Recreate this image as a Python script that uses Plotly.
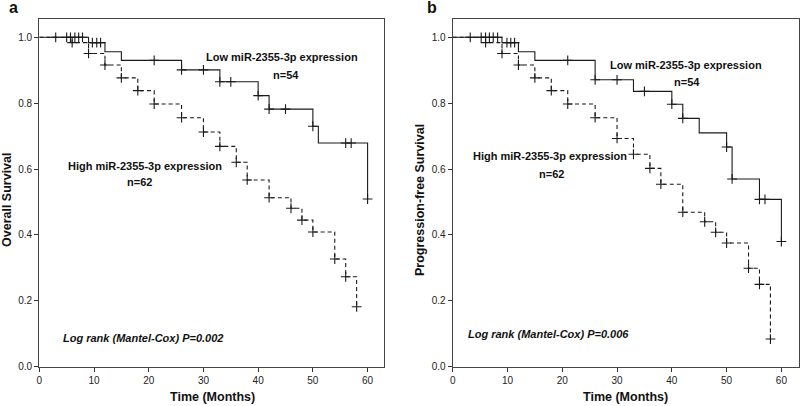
import numpy as np
import plotly.graph_objects as go

# ---------------- data ----------------
# Panel a: Overall survival
a_low_times = [0, 9, 12, 15, 26, 33, 40, 42, 50, 51, 60]
a_low_surv = [1.0, 0.984, 0.956, 0.930, 0.901, 0.865, 0.823, 0.782, 0.730, 0.679, 0.509]
a_low_cens = [3, 5, 5.7, 6.5, 7.2, 7.9, 9.7, 10.5, 11.2, 21, 26, 30, 33, 35, 40, 42, 45, 50, 56, 57, 60]

a_high_times = [0, 6, 9, 12, 15, 18, 21, 26, 30, 33, 36, 38, 42, 46, 48, 50, 54, 56, 58]
a_high_surv = [1.0, 0.984, 0.951, 0.916, 0.877, 0.838, 0.7975, 0.756, 0.7125, 0.669, 0.6205,
               0.567, 0.513, 0.481, 0.445, 0.409, 0.327, 0.273, 0.182]
a_high_cens = [6, 9, 12, 15, 18, 21, 26, 30, 33, 36, 38, 42, 46, 48, 50, 54, 56, 58]

# Panel b: Progression-free survival
b_low_times = [0, 9, 12, 15, 26, 33, 40, 42, 45, 50, 51, 56, 60]
b_low_surv = [1.0, 0.984, 0.956, 0.930, 0.871, 0.836, 0.797, 0.754, 0.710, 0.667, 0.570, 0.508, 0.380]
b_low_cens = [3.2, 5.2, 6, 6.7, 7.4, 8.2, 9.9, 10.6, 11.3, 21, 26, 30, 35, 40, 42, 50, 51, 56, 57, 60]

b_high_times = [0, 6, 9, 12, 15, 18, 21, 26, 30, 33, 36, 38, 42, 46, 48, 50, 54, 56, 58]
b_high_surv = [1.0, 0.984, 0.951, 0.916, 0.877, 0.838, 0.7975, 0.756, 0.693, 0.645, 0.602,
               0.554, 0.469, 0.440, 0.408, 0.3755, 0.299, 0.250, 0.084]
b_high_cens = [6, 9, 12, 15, 18, 21, 26, 30, 33, 36, 38, 42, 46, 48, 50, 54, 56, 58]

x_ticks = [0, 10, 20, 30, 40, 50, 60]
y_ticks = [0.0, 0.2, 0.4, 0.6, 0.8, 1.0]
y_tick_text = ["0.0", "0.2", "0.4", "0.6", "0.8", "1.0"]

low_label = "Low miR-2355-3p expression"
high_label = "High miR-2355-3p expression"
n_low = "n=54"
n_high = "n=62"
p_a = "Log rank (Mantel-Cox) P=0.002"
p_b = "Log rank (Mantel-Cox) P=0.006"


def surv_at(times, surv, t):
    i = int(np.searchsorted(np.array(times), t, side="right")) - 1
    return surv[max(i, 0)]


fig = go.Figure()


def add_curve(times, surv, cens, xa, ya, dash):
    fig.add_trace(go.Scatter(x=times, y=surv, mode="lines", line_shape="hv",
                             line=dict(color="#1a1a1a", width=1.1, dash=dash),
                             xaxis=xa, yaxis=ya, showlegend=False, hoverinfo="skip"))
    cy = [surv_at(times, surv, c) for c in cens]
    fig.add_trace(go.Scatter(x=cens, y=cy, mode="markers",
                             marker=dict(symbol="cross-thin", size=7,
                                         line=dict(color="#1a1a1a", width=1.1)),
                             xaxis=xa, yaxis=ya, showlegend=False, hoverinfo="skip",
                             cliponaxis=False))


add_curve(a_low_times, a_low_surv, a_low_cens, "x", "y", "solid")
add_curve(a_high_times, a_high_surv, a_high_cens, "x", "y", "4px,3px")
add_curve(b_low_times, b_low_surv, b_low_cens, "x2", "y2", "solid")
add_curve(b_high_times, b_high_surv, b_high_cens, "x2", "y2", "4px,3px")

W, H = 800, 406
font = "Liberation Sans, Arial, sans-serif"

ax_common = dict(showgrid=False, zeroline=False, showline=True, mirror=True, automargin=False,
                 linecolor="#444444", linewidth=1.2, ticks="outside", ticklen=4,
                 tickcolor="#333333", tickfont=dict(family=font, size=10, color="#222222"))

ybot = 1 - 366.7 / H
ytop = 1 - 19 / H
fig.update_layout(
    width=W, height=H, margin=dict(l=0, r=0, t=0, b=0, autoexpand=False),
    paper_bgcolor="white", plot_bgcolor="white",
    xaxis=dict(domain=[39.3 / W, 384 / W], range=[0, 63.0], tickvals=x_ticks, anchor="y", **ax_common),
    yaxis=dict(domain=[ybot, ytop], range=[0, 1.0556], tickvals=y_ticks, ticktext=y_tick_text,
               anchor="x", **ax_common),
    xaxis2=dict(domain=[452.7 / W, 798.7 / W], range=[0, 63.16], tickvals=x_ticks, anchor="y2", **ax_common),
    yaxis2=dict(domain=[ybot, ytop], range=[0, 1.0556], tickvals=y_ticks, ticktext=y_tick_text,
                anchor="x2", **ax_common),
)

ann = []


def txt(x, y, s, xref, yref, size=11, italic=False, angle=0, xanchor="center"):
    t = "<b>" + ("<i>" + s + "</i>" if italic else s) + "</b>"
    ann.append(dict(x=x, y=y, xref=xref, yref=yref, text=t, showarrow=False, textangle=angle,
                    xanchor=xanchor, yanchor="middle",
                    font=dict(family=font, size=size, color="#111111")))


# panel a
txt(44.3, 0.940, low_label, "x", "y")
txt(45.1, 0.886, n_low, "x", "y")
txt(19.3, 0.609, high_label, "x", "y")
txt(18.4, 0.5616, n_high, "x", "y")
txt(19.0, 0.088, p_a, "x", "y", italic=True)
# panel b
txt(42.5, 0.916, low_label, "x2", "y2")
txt(42.7, 0.865, n_low, "x2", "y2")
txt(17.8, 0.641, high_label, "x2", "y2")
txt(18.1, 0.584, n_high, "x2", "y2")
txt(17.5, 0.099, p_b, "x2", "y2", italic=True)

# axis titles and panel labels (paper coords)
txt(212 / W, 1 - 397 / H, "Time (Months)", "paper", "paper", size=12.5)
txt(625.5 / W, 1 - 397 / H, "Time (Months)", "paper", "paper", size=12.5)
txt(7 / W, 1 - 200 / H, "Overall Survival", "paper", "paper", size=12.5, angle=-90)
txt(420 / W, 1 - 200 / H, "Progression-free Survival", "paper", "paper", size=12.5, angle=-90)
txt(13 / W, 1 - 8 / H, "a", "paper", "paper", size=16)
txt(432 / W, 1 - 8 / H, "b", "paper", "paper", size=16)

fig.update_layout(annotations=ann)
fig.write_html("out.html", config={"displayModeBar": False},
               post_script="document.body.style.margin='0';document.body.style.overflow='hidden';")
